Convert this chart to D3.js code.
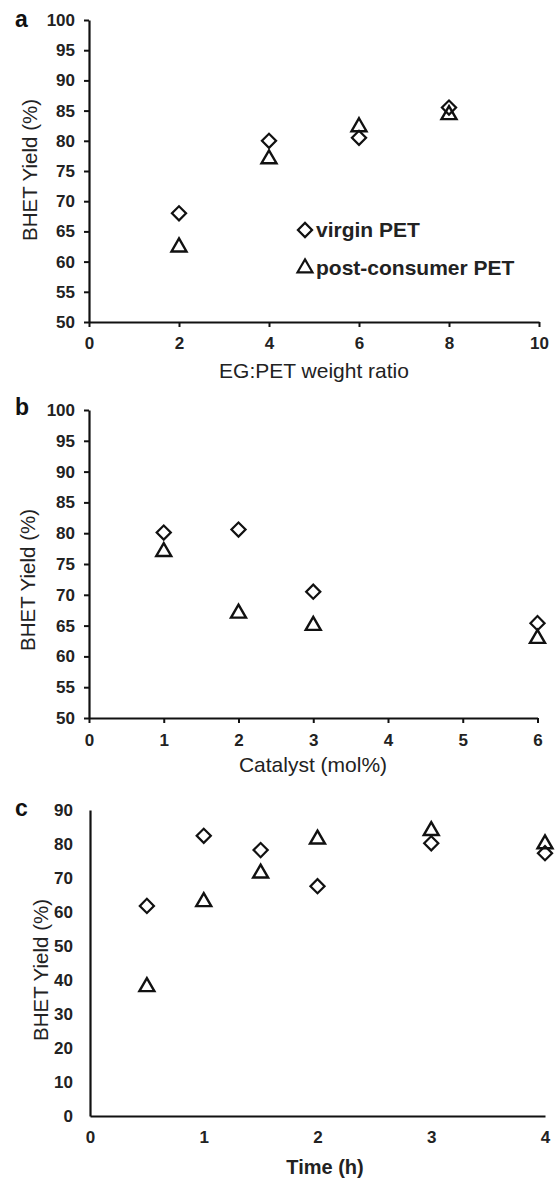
<!DOCTYPE html>
<html>
<head>
<meta charset="utf-8">
<script src="https://cdn.jsdelivr.net/npm/d3@7"></script>
<style>
  body { margin: 0; background: #fff; }
  svg { display: block; font-family: "Liberation Sans", Arial, sans-serif; }
</style>
</head>
<body>
<svg width="555" height="1178"></svg>
<script>
// panel a: EG:PET weight ratio
const ratioX = [2, 4, 6, 8];
const virginA = [68, 80, 80.5, 85.5];
const postA = [62.4, 77, 82.3, 84.3];

// panel b: catalyst loading
const catalystX = [1, 2, 3, 6];
const virginB = [80.1, 80.6, 70.5, 65.4];
const postB = [77, 67, 65, 62.9];

// panel c: reaction time
const timeX = [0.5, 1, 1.5, 2, 3, 4];
const virginC = [61.8, 82.4, 78.2, 67.6, 80.2, 77.3];
const postC = [38, 63, 71.4, 81.4, 83.9, 80];

const ticksA_x = [0, 2, 4, 6, 8, 10];
const ticksA_y = [50, 55, 60, 65, 70, 75, 80, 85, 90, 95, 100];
const ticksB_x = [0, 1, 2, 3, 4, 5, 6];
const ticksC_x = [0, 1, 2, 3, 4];
const ticksC_y = [0, 10, 20, 30, 40, 50, 60, 70, 80, 90];

const legendNames = ["virgin PET", "post-consumer PET"];

const svg = d3.select("svg");
const ink = "#111";

const diamond = d3.symbol(d3.symbolSquare, 100)();
const triangle = d3.symbol(d3.symbolTriangle, 97)();

const panels = [
  { letter: "a", lx: 15, ly: 27, xs: ratioX, v: virginA, p: postA,
    xDom: [0, 10], xRange: [89, 539], yDom: [50, 100], yRange: [322, 20],
    xt: ticksA_x, yt: ticksA_y, tick: 5, padY: 9, padX: 10,
    ytitle: [29, 170], xtitle: [314, 370], xlabel: "EG:PET weight ratio", xbold: false },
  { letter: "b", lx: 15, ly: 415, xs: catalystX, v: virginB, p: postB,
    xDom: [0, 6], xRange: [89, 537.5], yDom: [50, 100], yRange: [718, 410],
    xt: ticksB_x, yt: ticksA_y, tick: 5, padY: 9, padX: 11,
    ytitle: [27, 580], xtitle: [313, 764], xlabel: "Catalyst (mol%)", xbold: false },
  { letter: "c", lx: 15, ly: 816, xs: timeX, v: virginC, p: postC,
    xDom: [0, 4], xRange: [90, 545], yDom: [0, 90], yRange: [1116, 810],
    xt: ticksC_x, yt: ticksC_y, tick: 0, padY: 17, padX: 15,
    ytitle: [40, 970], xtitle: [325, 1167], xlabel: "Time (h)", xbold: true }
];

panels.forEach(function(pn) {
  const x = d3.scaleLinear().domain(pn.xDom).range(pn.xRange);
  const y = d3.scaleLinear().domain(pn.yDom).range(pn.yRange);

  const gx = svg.append("g")
    .attr("transform", `translate(0,${pn.yRange[0]})`)
    .call(d3.axisBottom(x).tickValues(pn.xt).tickFormat(d3.format("d"))
      .tickSize(pn.tick).tickSizeOuter(0).tickPadding(pn.padX));
  const gy = svg.append("g")
    .attr("transform", `translate(${pn.xRange[0]},0)`)
    .call(d3.axisLeft(y).tickValues(pn.yt).tickFormat(d3.format("d"))
      .tickSize(pn.tick).tickSizeOuter(0).tickPadding(pn.padY));

  [gx, gy].forEach(function(g) {
    g.select(".domain").attr("stroke", ink).attr("stroke-width", 2.2);
    g.selectAll(".tick line").attr("stroke", ink).attr("stroke-width", 2);
    g.selectAll(".tick text")
      .attr("fill", "#222")
      .style("font-size", "17px")
      .style("font-weight", "bold")
      .style("font-family", "'Liberation Sans', Arial, sans-serif");
  });

  // points
  svg.append("g").selectAll("path")
    .data(pn.xs.map((d, i) => [d, pn.p[i]]))
    .join("path")
    .attr("d", triangle)
    .attr("transform", d => `translate(${x(d[0])},${y(d[1])})`)
    .attr("fill", "none").attr("stroke", ink).attr("stroke-width", 2.4);

  svg.append("g").selectAll("path")
    .data(pn.xs.map((d, i) => [d, pn.v[i]]))
    .join("path")
    .attr("d", diamond)
    .attr("transform", d => `translate(${x(d[0])},${y(d[1])}) rotate(45)`)
    .attr("fill", "none").attr("stroke", ink).attr("stroke-width", 2.2);

  // panel letter
  svg.append("text")
    .attr("x", pn.lx).attr("y", pn.ly)
    .style("font-size", "23px").style("font-weight", "bold")
    .attr("fill", ink)
    .text(pn.letter);

  // titles
  svg.append("text")
    .attr("transform", `translate(${pn.ytitle[0]},${pn.ytitle[1]}) rotate(-90)`)
    .attr("text-anchor", "middle").attr("dominant-baseline", "central")
    .style("font-size", "20.5px").attr("fill", "#222")
    .text("BHET Yield (%)");

  svg.append("text")
    .attr("x", pn.xtitle[0]).attr("y", pn.xtitle[1])
    .attr("text-anchor", "middle").attr("dominant-baseline", "central")
    .style("font-size", pn.xbold ? "20px" : "21px")
    .style("font-weight", pn.xbold ? "bold" : "normal")
    .attr("fill", "#222")
    .text(pn.xlabel);
});

// legend (panel a)
const legend = svg.append("g");
const legendRows = [
  { sym: diamond, rot: 45, y: 230, name: legendNames[0] },
  { sym: triangle, rot: 0, y: 268, name: legendNames[1] }
];
legendRows.forEach(function(r) {
  legend.append("path")
    .attr("d", r.sym)
    .attr("transform", `translate(305,${r.y}) rotate(${r.rot})`)
    .attr("fill", "none").attr("stroke", ink).attr("stroke-width", 2.2);
  legend.append("text")
    .attr("x", 316).attr("y", r.y + 7)
    .style("font-size", "21px").style("font-weight", "bold")
    .attr("fill", "#222")
    .text(r.name);
});
</script>
</body>
</html>
